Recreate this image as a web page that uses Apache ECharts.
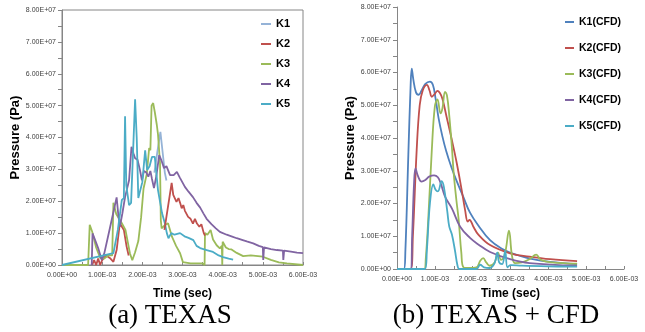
<!DOCTYPE html>
<html>
<head>
<meta charset="utf-8">
<script src="https://cdn.jsdelivr.net/npm/echarts@6/dist/echarts.min.js"></script>
<style>
  html, body { margin: 0; padding: 0; background: #fff; }
  #chart { width: 645px; height: 332px; }
</style>
</head>
<body>
<div id="chart"></div>
<script>
// points are [time in ms, pressure in 1e7 Pa]

// (a) TEXAS
var texK1 = [[2.3, 2.9], [2.38, 3.6], [2.45, 4.18], [2.5, 3.6], [2.56, 2.9], [2.6, 2.65]];
var texK2a = [[0.75, 0], [0.8, 0.15], [0.85, 0], [0.9, 0.2], [0.95, 0], [1.0, 0.15], [1.1, 0.3], [1.19, 0.22],
  [1.28, 0.1], [1.36, 0.47], [1.44, 1.31], [1.48, 1.36], [1.54, 1.1], [1.61, 0.57], [1.66, 0.3]];
var texK2b = [[2.55, 1.1], [2.73, 2.58], [2.77, 2.2], [2.81, 2.25], [2.85, 1.98], [2.9, 2.1], [2.94, 1.95],
  [2.98, 1.78], [3.02, 1.88], [3.06, 1.7], [3.14, 1.51], [3.2, 1.45], [3.26, 1.3], [3.31, 1.45], [3.36, 1.3],
  [3.42, 1.2], [3.47, 1.28], [3.53, 1.0], [3.56, 0.92]];
var texK3 = [[0, 0], [0.65, 0], [0.69, 1.26], [0.75, 1.05], [0.85, 0.55], [0.95, 0.22], [1.05, 0.2], [1.15, 0.3],
  [1.25, 0.3], [1.28, 1.95], [1.35, 1.6], [1.49, 1.31], [1.58, 1.1], [1.69, 0.37], [1.75, 0.15], [1.82, 0.4],
  [1.9, 0.75], [1.97, 1.5], [2.03, 2.4], [2.11, 2.85], [2.17, 3.67], [2.2, 3.6], [2.23, 5.0], [2.27, 5.08],
  [2.31, 4.8], [2.36, 4.4], [2.39, 4.1], [2.44, 3.2], [2.46, 1.41], [2.48, 1.15], [2.56, 1.25], [2.64, 1.31],
  [2.74, 0.88], [2.84, 0.6], [2.94, 0.37], [3.01, 0.09], [3.2, 0.05], [3.5, 0.05], [3.55, 0.0], [3.56, 1.0],
  [3.62, 0.95], [3.7, 1.1], [3.76, 0.8], [3.85, 0.62], [3.93, 0.52], [3.98, 0.6], [3.99, 0.0], [4.0, 0.73],
  [4.08, 0.55], [4.15, 0.5], [4.22, 0.49], [4.35, 0.38], [4.51, 0.28], [4.7, 0.3], [5.0, 0.26], [5.2, 0.16],
  [5.4, 0.08], [5.6, 0.05], [6.0, 0.0]];
var texK4 = [[0.74, 0], [0.76, 0.99], [0.82, 0.8], [0.9, 0.53], [0.99, 0.16], [1.05, 0.35], [1.2, 1.2],
  [1.36, 2.12], [1.4, 1.6], [1.44, 1.2], [1.5, 1.6], [1.57, 2.13], [1.67, 2.66], [1.73, 3.71], [1.78, 3.5],
  [1.82, 3.35], [1.88, 3.3], [1.94, 2.98], [1.99, 2.66], [2.04, 2.95], [2.1, 2.9], [2.15, 2.77], [2.2, 2.95],
  [2.24, 2.7], [2.29, 2.41], [2.35, 2.8], [2.42, 3.45], [2.47, 3.3], [2.54, 3.04], [2.6, 3.1], [2.69, 2.82],
  [2.78, 2.82], [2.86, 2.92], [2.93, 2.75], [3.06, 2.45], [3.15, 2.3], [3.26, 2.13], [3.35, 1.95], [3.44, 1.8],
  [3.52, 1.62], [3.6, 1.45], [3.72, 1.28], [3.83, 1.15], [3.93, 1.04], [4.1, 0.95], [4.22, 0.9], [4.35, 0.84],
  [4.5, 0.78], [4.6, 0.74], [4.76, 0.68], [4.9, 0.6], [5.0, 0.56], [5.01, 0.16], [5.03, 0.55], [5.2, 0.5],
  [5.35, 0.47], [5.5, 0.45], [5.51, 0.16], [5.53, 0.45], [5.7, 0.42], [5.85, 0.39], [6.0, 0.37]];
var texK5 = [[0, 0], [1.28, 0.37], [1.39, 1.1], [1.49, 2.04], [1.54, 2.1], [1.57, 4.67], [1.6, 2.5],
  [1.67, 1.88], [1.72, 1.95], [1.76, 1.9], [1.82, 5.2], [1.86, 4.0], [1.9, 2.1], [1.94, 2.13], [2.0, 2.6],
  [2.07, 3.6], [2.12, 2.98], [2.18, 3.1], [2.24, 3.39], [2.31, 3.39], [2.39, 2.35], [2.49, 1.63], [2.56, 1.31],
  [2.61, 1.0], [2.65, 0.84], [2.72, 1.0], [2.8, 0.95], [2.94, 1.0], [3.05, 0.9], [3.15, 0.85], [3.27, 0.78],
  [3.35, 0.6], [3.44, 0.53], [3.6, 0.47], [3.76, 0.41], [3.9, 0.3], [4.01, 0.25], [4.15, 0.2], [4.26, 0.17]];

// (b) TEXAS + CFD
var cfdK1 = [[0, 0], [0.18, 0], [0.22, 0.5], [0.3, 3.5], [0.36, 5.6], [0.39, 6.12], [0.43, 5.8], [0.5, 5.4],
  [0.57, 5.32], [0.65, 5.45], [0.75, 5.65], [0.87, 5.72], [0.95, 5.62], [1.02, 5.2], [1.1, 4.6], [1.2, 4.05],
  [1.3, 3.6], [1.44, 3.1], [1.6, 2.62], [1.75, 2.21], [1.93, 1.72], [2.15, 1.33], [2.46, 0.88], [2.8, 0.6],
  [2.99, 0.5], [3.2, 0.42], [3.52, 0.32], [4.05, 0.22], [4.76, 0.15]];
var cfdK2 = [[0, 0], [0.36, 0], [0.42, 1.0], [0.52, 3.63], [0.6, 5.0], [0.68, 5.45], [0.79, 5.62], [0.86, 5.45],
  [0.92, 5.26], [1.0, 5.35], [1.07, 5.44], [1.13, 5.38], [1.2, 5.2], [1.31, 4.65], [1.45, 3.94], [1.58, 3.23],
  [1.71, 2.41], [1.8, 1.8], [1.87, 1.45], [1.92, 1.5], [1.97, 1.42], [2.02, 1.29], [2.15, 1.05], [2.46, 0.73],
  [2.99, 0.48], [3.5, 0.38], [4.05, 0.3], [4.76, 0.24]];
var cfdK3 = [[0, 0], [0.72, 0], [0.76, 0.3], [0.83, 1.6], [0.92, 3.63], [1.0, 4.96], [1.07, 5.18], [1.15, 4.75],
  [1.2, 4.9], [1.27, 5.41], [1.32, 5.3], [1.38, 4.7], [1.45, 3.73], [1.5, 2.9], [1.57, 2.1], [1.63, 1.5],
  [1.7, 0.5], [1.76, 0.05], [1.9, 0.03], [2.1, 0.05], [2.2, 0.25], [2.28, 0.33], [2.36, 0.2], [2.45, 0.1],
  [2.58, 0.2], [2.67, 0.5], [2.75, 0.28], [2.85, 0.45], [2.96, 1.17], [3.04, 0.4], [3.12, 0.18], [3.3, 0.2],
  [3.5, 0.3], [3.68, 0.44], [3.8, 0.28], [4.1, 0.2], [4.76, 0.16]];
var cfdK4 = [[0, 0], [0.36, 0], [0.4, 1.0], [0.45, 2.6], [0.49, 3.07], [0.55, 2.85], [0.65, 2.67], [0.75, 2.72],
  [0.85, 2.82], [0.98, 2.86], [1.08, 2.8], [1.16, 2.6], [1.27, 2.21], [1.45, 1.85], [1.67, 1.29], [1.93, 0.95],
  [2.15, 0.75], [2.46, 0.52], [2.99, 0.3], [3.5, 0.18], [4.76, 0.1]];
var cfdK5 = [[0, 0], [0.74, 0], [0.79, 0.58], [0.87, 2.0], [0.96, 2.58], [1.02, 2.42], [1.08, 2.37], [1.18, 2.68],
  [1.24, 2.5], [1.33, 1.75], [1.38, 1.3], [1.45, 1.06], [1.53, 0.58], [1.6, 0.1], [1.65, 0], [2.1, 0],
  [2.2, 0.13], [2.3, 0.05], [2.45, 0.03], [2.58, 0.18], [2.65, 0.5], [2.7, 0.2], [2.78, 0.15], [2.86, 0.55],
  [2.92, 0.05], [3.0, 0.12], [3.3, 0.1], [4.0, 0.08], [4.76, 0.07]];

var texNames = ['K1', 'K2', 'K3', 'K4', 'K5'];
var cfdNames = ['K1(CFD)', 'K2(CFD)', 'K3(CFD)', 'K4(CFD)', 'K5(CFD)'];
var texColors = ['#95b3d7', '#c0504d', '#9bbb59', '#8064a2', '#4bacc6'];
var cfdColors = ['#4f81bd', '#c0504d', '#9bbb59', '#8064a2', '#4bacc6'];

var chart = echarts.init(document.getElementById('chart'));

function toSI(arr) {
  return arr.map(function (p) { return [p[0] * 1e-3, p[1] * 1e7]; });
}

function sci(v) {
  if (v === 0) return '0.00E+00';
  var s = v.toExponential(2).split('e');
  var e = parseInt(s[1], 10);
  return s[0] + 'E' + (e < 0 ? '-' : '+') + (Math.abs(e) < 10 ? '0' : '') + Math.abs(e);
}

var tickFont = { fontFamily: 'Liberation Sans', fontSize: 7, color: '#404040' };
var nameFont = { fontFamily: 'Liberation Sans', fontSize: 12, fontWeight: 'bold', color: '#000' };
var axisGray = '#868686';

function xAx(i, gap) {
  return {
    type: 'value', gridIndex: i, min: 0, max: 0.006, interval: 0.001,
    name: 'Time (sec)', nameLocation: 'middle', nameGap: gap, nameTextStyle: nameFont,
    axisLine: { onZero: false, lineStyle: { color: axisGray } },
    axisTick: { inside: true, length: 3, lineStyle: { color: axisGray } },
    minorTick: { show: true, splitNumber: 2, length: 3, lineStyle: { color: axisGray } },
    splitLine: { show: false },
    axisLabel: Object.assign({ margin: 7, formatter: sci }, tickFont)
  };
}

function yAx(i, gap) {
  return {
    type: 'value', gridIndex: i, min: 0, max: 8e7, interval: 1e7,
    name: 'Pressure (Pa)', nameLocation: 'middle', nameGap: gap,
    nameTextStyle: Object.assign({}, nameFont, { fontSize: 13 }),
    axisLine: { show: true, lineStyle: { color: axisGray } },
    axisTick: { show: true, length: 4, lineStyle: { color: axisGray } },
    minorTick: { show: true, splitNumber: 2, length: 4, lineStyle: { color: axisGray } },
    splitLine: { show: false },
    axisLabel: Object.assign({ margin: 6, formatter: sci }, tickFont)
  };
}

function line(name, data, color, idx, smooth) {
  return {
    type: 'line', name: name, data: toSI(data), xAxisIndex: idx, yAxisIndex: idx,
    showSymbol: false, smooth: smooth, color: color,
    lineStyle: { width: 1.8, color: color }
  };
}

var texData = [texK1, texK2a, texK3, texK4, texK5];
var cfdData = [cfdK1, cfdK2, cfdK3, cfdK4, cfdK5];
var series = [];
texData.forEach(function (d, k) { series.push(line(texNames[k], d, texColors[k], 0, false)); });
series.push(line('K2', texK2b, texColors[1], 0, false));
cfdData.forEach(function (d, k) { series.push(line(cfdNames[k], d, cfdColors[k], 1, 0.4)); });

var legendText = { fontFamily: 'Liberation Sans', fontSize: 11, fontWeight: 'bold', color: '#000', lineHeight: 14 };
var cfdLegendText = Object.assign({}, legendText, { fontSize: 10.5 });

chart.setOption({
  animation: false,
  title: [
    { text: '(a) TEXAS', left: 170, top: 302, textAlign: 'center', padding: 0,
      textStyle: { fontFamily: 'Liberation Serif', fontSize: 27, fontWeight: 'normal', color: '#000' } },
    { text: '(b) TEXAS + CFD', left: 496, top: 302, textAlign: 'center', padding: 0,
      textStyle: { fontFamily: 'Liberation Serif', fontSize: 27, fontWeight: 'normal', color: '#000' } }
  ],
  legend: [
    { data: texNames, orient: 'vertical', left: 261, top: 17, itemWidth: 10, itemHeight: 2, itemGap: 6,
      icon: 'rect', padding: 0, textStyle: legendText },
    { data: cfdNames, orient: 'vertical', left: 565, top: 15, itemWidth: 9, itemHeight: 2, itemGap: 12,
      icon: 'rect', padding: 0, textStyle: cfdLegendText }
  ],
  grid: [
    { left: 62, top: 10, width: 241, height: 255, show: true, borderColor: axisGray, borderWidth: 1 },
    { left: 397, top: 7, width: 227, height: 262 }
  ],
  xAxis: [xAx(0, 23), xAx(1, 19)],
  yAxis: [yAx(0, 37), yAx(1, 39)],
  series: series
});
</script>
</body>
</html>
